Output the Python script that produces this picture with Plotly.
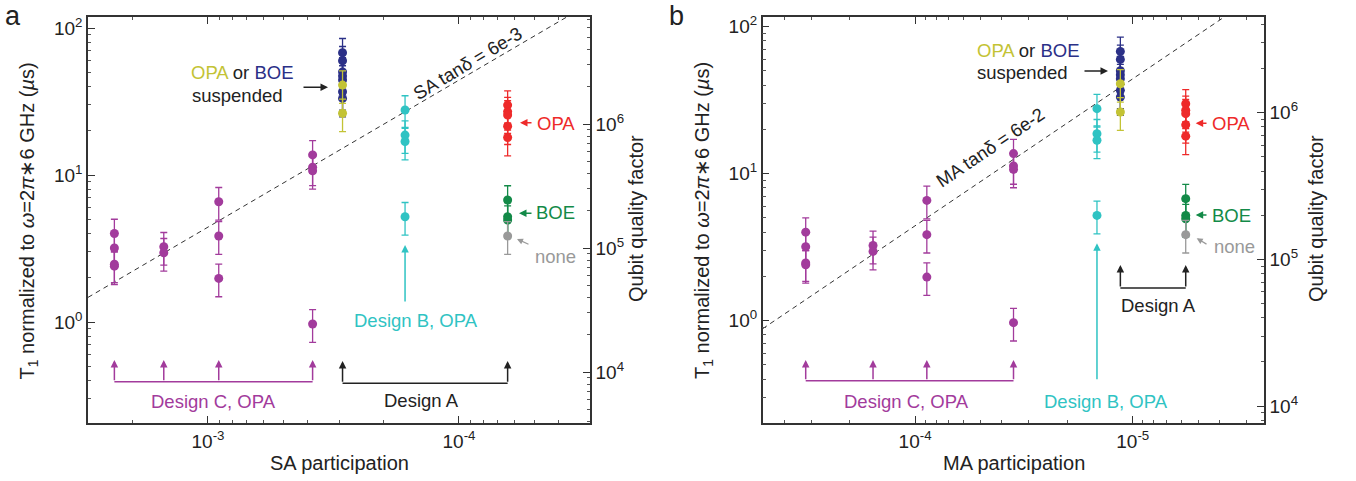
import numpy as np
import plotly.graph_objects as go

# ---------------- data ----------------
SA_C = [2.36e-3, 1.50e-3, 9.06e-4, 3.83e-4]
MA_C = [3.18e-4, 1.56e-4, 8.83e-5, 3.53e-5]
SA_SUSP, MA_SUSP = 2.91e-4, 1.14e-5
SA_B, MA_B = 1.64e-4, 1.46e-5
SA_A, MA_A = 6.4e-5, 5.71e-6

T1_C = [[4.0, 3.19, 2.47, 2.4], [3.25, 2.96], [6.58, 3.85, 1.98], [13.7, 11.3, 10.7, 0.97]]
T1_SUSP_BOE = [67.9, 59.9, 50.2, 47.1, 44.3, 36.9, 33.2]
T1_SUSP_OPA = [40.9, 26.3]
T1_B = [27.7, 18.7, 16.9, 5.2]
T1_A_OPA = [29.9, 27.0, 25.6, 21.5, 18.0]
T1_A_BOE = [6.76, 5.2, 4.94]
T1_A_NONE = [3.85]
ERR_PCT = 25

TAN_SA, TAN_MA, FREQ = 6e-3, 6e-2, 6e9

Y_TICKS = [1, 10, 100]
Y_TICKTEXT = ["10<sup>0</sup>", "10<sup>1</sup>", "10<sup>2</sup>"]
Q_TICKS = [1e4, 1e5, 1e6]
Q_TICKTEXT = ["10<sup>4</sup>", "10<sup>5</sup>", "10<sup>6</sup>"]
XA_TICKS = [1e-3, 1e-4]
XA_TICKTEXT = ["10<sup>-3</sup>", "10<sup>-4</sup>"]
XB_TICKS = [1e-4, 1e-5]
XB_TICKTEXT = ["10<sup>-4</sup>", "10<sup>-5</sup>"]

# ---------------- style / geometry ----------------
W, H = 1356, 481
FONT = "Liberation Sans, Arial, sans-serif"
PURPLE, CYAN, RED, GREEN = "#a23b9c", "#2fc3c3", "#ee2a2a", "#138a48"
GRAY, NAVY, OLIVE, DARK = "#999999", "#2b3087", "#c3c335", "#222222"

TOP, BOT = 17, 423
A_L, A_R = 88, 590
B_L, B_R = 762.7, 1264
XR_A = [-2.522, -4.522]
XR_B = [-3.300, -5.603]
YR_A = [-0.687, 2.075]
YR_B = [-0.696, 2.066]
QR_A = [3.589, 6.863]
QR_B = [3.885, 6.652]


def pxp(x):
    return x / W


def pyp(y):
    return 1 - y / H


def xl(xp, L, R, xr):
    return xr[0] + (xp - L) / (R - L) * (xr[1] - xr[0])


def yl(yp, yr):
    return yr[0] + (BOT - yp) / (BOT - TOP) * (yr[1] - yr[0])


fig = go.Figure()


def pts(xv, ys, color, xa, ya):
    fig.add_trace(go.Scatter(
        x=[xv] * len(ys), y=ys, xaxis=xa, yaxis=ya, mode="markers",
        marker=dict(size=9, color=color),
        error_y=dict(type="percent", value=ERR_PCT, color=color, thickness=1.3, width=3.5),
        showlegend=False, hoverinfo="skip"))


annotations = []


def arrow_data(xa, ya, xv_log, head_y, tail_dx, tail_dy, color, yr):
    annotations.append(dict(
        xref=xa, yref=ya, x=xv_log, y=yl(head_y, yr), ax=tail_dx, ay=tail_dy,
        axref="pixel", ayref="pixel", text="", showarrow=True, arrowhead=2,
        arrowsize=1, arrowwidth=1.5, arrowcolor=color))


def arrow_px(hx, hy, tx, ty, color, width=1.5):
    annotations.append(dict(
        xref="paper", yref="paper", x=pxp(hx), y=pyp(hy), ax=tx - hx, ay=ty - hy,
        text="", showarrow=True, arrowhead=2, arrowsize=1, arrowwidth=width,
        arrowcolor=color))


def text_px(x, y, text, color=DARK, size=18.5, xanchor="center", angle=0):
    annotations.append(dict(
        xref="paper", yref="paper", x=pxp(x), y=pyp(y), text=text, showarrow=False,
        font=dict(family=FONT, size=size, color=color), xanchor=xanchor,
        yanchor="middle", textangle=angle))


def panel(xa, ya, ya2, xC, xS, xB, xA, tan, L, R, xr, yr):
    # model line
    p = [10 ** xr[0], 10 ** xr[1]]
    fig.add_trace(go.Scatter(
        x=p, y=[1e6 / (2 * np.pi * FREQ * v * tan) for v in p], xaxis=xa, yaxis=ya,
        mode="lines", line=dict(color="#333333", width=1, dash="5px,4px"),
        showlegend=False, hoverinfo="skip"))
    for xv, ys in zip(xC, T1_C):
        pts(xv, ys, PURPLE, xa, ya)
    pts(xB, T1_B, CYAN, xa, ya)
    pts(xS, T1_SUSP_BOE, NAVY, xa, ya)
    pts(xS, T1_SUSP_OPA, OLIVE, xa, ya)
    pts(xA, T1_A_OPA, RED, xa, ya)
    pts(xA, T1_A_BOE, GREEN, xa, ya)
    pts(xA, T1_A_NONE, GRAY, xa, ya)
    # invisible anchor for the Q axis
    fig.add_trace(go.Scatter(x=[xA], y=[10 ** 5], xaxis=xa, yaxis=ya2, mode="markers",
                             marker=dict(opacity=0), showlegend=False, hoverinfo="skip"))


panel("x", "y", "y2", SA_C, SA_SUSP, SA_B, SA_A, TAN_SA, A_L, A_R, XR_A, YR_A)
panel("x2", "y3", "y4", MA_C, MA_SUSP, MA_B, MA_A, TAN_MA, B_L, B_R, XR_B, YR_B)

# ---- brackets ----
def bracket(xa, ya, xs, y_line, y_head, color, yr):
    fig.add_trace(go.Scatter(x=[xs[0], xs[-1]], y=[10 ** yl(y_line, yr)] * 2, xaxis=xa, yaxis=ya,
                             mode="lines", line=dict(color=color, width=1.5),
                             showlegend=False, hoverinfo="skip"))
    for xv in xs:
        arrow_data(xa, ya, np.log10(xv), y_head, 0, y_line - y_head, color, yr)


bracket("x", "y", SA_C, 381.7, 360, PURPLE, YR_A)
bracket("x", "y", [SA_SUSP, SA_A], 383.3, 361, DARK, YR_A)
arrow_data("x", "y", np.log10(SA_B), 245, 0, 303 - 245, CYAN, YR_A)

bracket("x2", "y3", MA_C, 380.7, 360, PURPLE, YR_B)
bracket("x2", "y3", [MA_SUSP, MA_A], 288, 265, DARK, YR_B)
arrow_data("x2", "y3", np.log10(MA_B), 243.3, 0, 380.7 - 243.3, CYAN, YR_B)

# ---- text labels ----
OPA_BOE = f"<span style='color:{OLIVE}'>OPA</span> or <span style='color:{NAVY}'>BOE</span>"
# panel a
text_px(13, 16, "a", size=27)
text_px(189, 73, OPA_BOE, xanchor="left")
text_px(190, 95, "suspended", xanchor="left")
arrow_px(328, 87.3, 302, 87.3, DARK)
text_px(467, 63, "SA tanδ = 6e-3", angle=-31)
arrow_px(520, 122.7, 533, 122.7, RED)
text_px(535, 123, "OPA", RED, xanchor="left")
arrow_px(519, 213.3, 533, 213.3, GREEN)
text_px(534, 213, "BOE", GREEN, xanchor="left")
arrow_px(517, 239, 530, 245, GRAY, 1.2)
text_px(533, 256, "none", GRAY, xanchor="left")
text_px(416, 320, "Design B, OPA", CYAN)
text_px(213, 401.7, "Design C, OPA", PURPLE)
text_px(421.7, 400, "Design A")
text_px(339, 463, "SA participation", size=20)
text_px(28.5, 221, "T<sub>1</sub> normalized to <i>ω</i>=2<i>π</i>∗6 GHz (<i>µ</i>s)", size=20, angle=-90)
text_px(636, 219, "Qubit quality factor", size=20, angle=-90)

# panel b
text_px(676, 16, "b", size=27)
text_px(975, 50.7, OPA_BOE, xanchor="left")
text_px(975, 72.7, "suspended", xanchor="left")
arrow_px(1108, 71, 1083, 71, DARK)
text_px(990, 147, "MA tanδ = 6e-2", angle=-34)
arrow_px(1195.7, 123.3, 1208, 123.3, RED)
text_px(1210, 123.3, "OPA", RED, xanchor="left")
arrow_px(1195.7, 215, 1208, 215, GREEN)
text_px(1210, 215, "BOE", GREEN, xanchor="left")
arrow_px(1196.7, 238.3, 1208, 245, GRAY, 1.2)
text_px(1211.7, 246, "none", GRAY, xanchor="left")
text_px(1105.7, 401, "Design B, OPA", CYAN)
text_px(906, 401.7, "Design C, OPA", PURPLE)
text_px(1158, 305, "Design A")
text_px(1013.5, 463, "MA participation", size=20)
text_px(704, 221, "T<sub>1</sub> normalized to <i>ω</i>=2<i>π</i>∗6 GHz (<i>µ</i>s)", size=20, angle=-90)
text_px(1316, 219, "Qubit quality factor", size=20, angle=-90)

# ---------------- axes ----------------
MINOR = [m * 10.0 ** k for k in range(-7, 8) for m in range(2, 10)]
AX = dict(type="log", showline=True, linecolor="#333333", linewidth=1.5, ticks="inside",
          ticklen=7, tickwidth=1.2, tickcolor="#333333", showgrid=False, zeroline=False,
          tickfont=dict(family=FONT, size=19, color=DARK), automargin=False,
          minor=dict(tickvals=MINOR, ticks="inside", ticklen=3.5, tickwidth=1,
                     tickcolor="#555555", showgrid=False))


def ax(**kw):
    d = dict(AX)
    d.update(kw)
    return d


yd = [1 - BOT / H, 1 - TOP / H]
fig.update_layout(
    width=W, height=H, margin=dict(l=0, r=0, t=0, b=0),
    paper_bgcolor="white", plot_bgcolor="white", template="none",
    showlegend=False, font=dict(family=FONT, color=DARK),
    xaxis=ax(domain=[A_L / W, A_R / W], range=XR_A, anchor="y", mirror="ticks",
             tickvals=XA_TICKS, ticktext=XA_TICKTEXT),
    yaxis=ax(domain=yd, range=YR_A, anchor="x", tickvals=Y_TICKS, ticktext=Y_TICKTEXT),
    yaxis2=ax(range=QR_A, anchor="x", overlaying="y", side="right",
              tickvals=Q_TICKS, ticktext=Q_TICKTEXT),
    xaxis2=ax(domain=[B_L / W, B_R / W], range=XR_B, anchor="y3", mirror="ticks",
              tickvals=XB_TICKS, ticktext=XB_TICKTEXT),
    yaxis3=ax(domain=yd, range=YR_B, anchor="x2", tickvals=Y_TICKS, ticktext=Y_TICKTEXT),
    yaxis4=ax(range=QR_B, anchor="x2", overlaying="y3", side="right",
              tickvals=Q_TICKS, ticktext=Q_TICKTEXT),
    annotations=annotations,
)

fig.write_html("out.html")
